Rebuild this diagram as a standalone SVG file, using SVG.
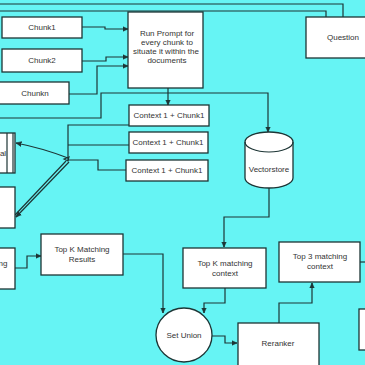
<svg xmlns="http://www.w3.org/2000/svg" width="365" height="365" viewBox="0 0 365 365">
<defs>
<marker id="ah" viewBox="0 0 10 10" refX="9" refY="5" markerWidth="6" markerHeight="6" orient="auto-start-reverse" markerUnits="userSpaceOnUse">
<path d="M0,1 L9,5 L0,9 Z" fill="#1d3535" stroke="#1d3535" stroke-width="1"/>
</marker>
<style>
.bx{fill:#ffffff;stroke:#1d3535;stroke-width:1.3}
.ln{fill:none;stroke:#1d3535;stroke-width:1.2}
.ar{fill:none;stroke:#1d3535;stroke-width:1.2;marker-end:url(#ah)}
.t{font-family:"Liberation Sans",Arial,sans-serif;font-size:8px;fill:#333333;text-anchor:middle}
</style>
</defs>
<rect x="0" y="0" width="365" height="365" fill="#66F4F4"/>
<g id="connectors">
<path class="ln" d="M0,4 H343 V17"/>
<path class="ln" d="M0,11 H326 V17"/>
<path class="ar" d="M82,27 H105 V29 H128"/>
<path class="ar" d="M82,61 H106 V57 H128"/>
<path class="ar" d="M69,94 H97 V66 H128"/>
<path class="ar" d="M0,118 H101 V93 H268 V132"/>
<path class="ar" d="M168,88 V105"/>
<path class="ln" d="M129,125 H68 V160"/>
<path class="ln" d="M129,145 H68"/>
<path class="ln" d="M126,170 H98 V160 H68"/>
<path class="ar" d="M68,158 Q42,148 16,143"/>
<path class="ln" d="M69,157 L64,159 L68,161 Z"/>
<path class="ln" d="M66,161 L15,215"/>
<path class="ar" d="M69,162 L16,217"/>
<path class="ar" d="M15,268 H27 V256 H41"/>
<path class="ar" d="M123,254 H163 V313"/>
<path class="ar" d="M269,187 V217 H224 V247"/>
<path class="ar" d="M225,288 V303 H204 V313"/>
<path class="ar" d="M212,336 H225 V343 H237"/>
<path class="ar" d="M279,323 V303 H312 V283"/>
<path class="ln" d="M360,262 H366"/>
</g>
<g id="chunk1"><rect class="bx" x="2" y="17" width="80" height="21"/><text class="t" x="42" y="30">Chunk1</text></g>
<g id="chunk2"><rect class="bx" x="2" y="49" width="80" height="23"/><text class="t" x="42" y="63">Chunk2</text></g>
<g id="chunkn"><rect class="bx" x="-1" y="82" width="70" height="22"/><text class="t" x="35" y="96">Chunkn</text></g>
<g id="runprompt"><rect class="bx" x="128" y="12" width="75" height="76"/>
<text class="t" x="167" y="36">Run Prompt for</text>
<text class="t" x="167" y="45">every chunk to</text>
<text class="t" x="166" y="54">situate it within the</text>
<text class="t" x="167" y="63">documents</text></g>
<g id="question"><rect class="bx" x="306" y="17" width="62" height="41"/><text class="t" x="343" y="40">Question</text></g>
<g id="context1"><rect class="bx" x="129" y="105" width="80" height="21"/><text class="t" x="169" y="118">Context 1  + Chunk1</text></g>
<g id="context2"><rect class="bx" x="129" y="132" width="79" height="21"/><text class="t" x="168" y="145">Context 1  + Chunk1</text></g>
<g id="context3"><rect class="bx" x="126" y="160" width="82" height="21"/><text class="t" x="167" y="173">Context 1  + Chunk1</text></g>
<g id="vectorstore">
<path class="bx" d="M245,142 V178 A24,10 0 0 0 293,178 V142 A24,10 0 0 0 245,142 Z"/>
<path class="ln" d="M245,142 A24,10 0 0 0 293,142"/>
<text class="t" x="269" y="172">Vectorstore</text></g>
<g id="leftbox1"><rect class="bx" x="-2" y="133" width="17" height="40"/>
<path class="ln" d="M7,133 V173 M13,133 V173"/>
<text class="t" x="3" y="156">al</text></g>
<g id="leftbox2"><rect class="bx" x="-2" y="187" width="17" height="41"/></g>
<g id="leftbox3"><rect class="bx" x="-2" y="248" width="17" height="41"/><text class="t" x="3" y="266">ng</text></g>
<g id="topkresults"><rect class="bx" x="41" y="234" width="82" height="41"/>
<text class="t" x="82" y="252">Top K Matching</text>
<text class="t" x="82" y="262">Results</text></g>
<g id="topkcontext"><rect class="bx" x="183" y="248" width="83" height="40"/>
<text class="t" x="225" y="266">Top K matching</text>
<text class="t" x="225" y="276">context</text></g>
<g id="setunion"><ellipse class="bx" cx="184" cy="335" rx="28" ry="27"/><text class="t" x="184" y="338">Set Union</text></g>
<g id="reranker"><rect class="bx" x="238" y="323" width="81" height="45"/><text class="t" x="278" y="346">Reranker</text></g>
<g id="top3"><rect class="bx" x="279" y="242" width="81" height="40"/>
<text class="t" x="320" y="259">Top 3 matching</text>
<text class="t" x="320" y="269">context</text></g>
<g id="rightbox"><rect class="bx" x="359" y="309" width="10" height="41"/></g>
</svg>
